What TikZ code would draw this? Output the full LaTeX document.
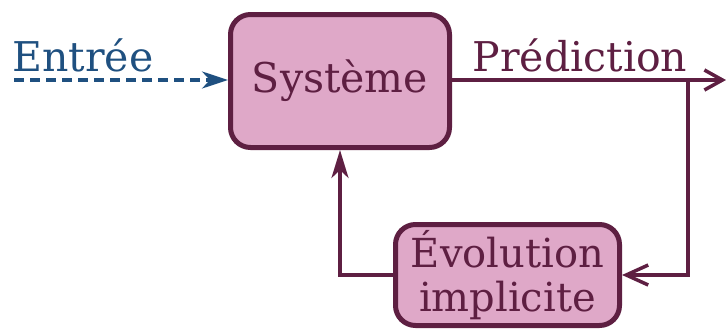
\documentclass[tikz,border=0pt]{standalone}
\usepackage{fontspec}
\setmainfont{DejaVu Serif}
\usetikzlibrary{arrows.meta,calc}
\definecolor{boxfill}{HTML}{DFA8C8}
\definecolor{boxdraw}{HTML}{5E1F42}
\definecolor{inblue}{HTML}{1F5080}
\tikzset{
  blockbox/.style={draw=boxdraw, fill=boxfill, line width=5pt, rounded corners=20pt, text=boxdraw, align=center, inner sep=0pt},
  conn/.style={draw=boxdraw, line width=3.5pt},
  labeltext/.style={inner sep=0pt, font=\fontsize{41}{44}\selectfont},
}
\begin{document}
\begin{tikzpicture}[x=1pt,y=1pt]
\useasboundingbox (0,0) rectangle (726,-332);
\node[blockbox, minimum width=219pt, minimum height=133pt, font=\fontsize{41}{44}\selectfont] (sys) at (340,-81) {Système};
\node[blockbox, minimum width=224pt, minimum height=101pt, font=\fontsize{40}{44}\selectfont] (evo) at (507.5,-275) {Évolution\\implicite};
\node[labeltext, text=inblue, anchor=base] (ent) at (83,-71) {Entrée};
\node[labeltext, text=boxdraw, anchor=base] (pred) at (580,-71) {Prédiction};
\coordinate (inStart) at (14,-80);
\coordinate (outEnd) at (726,-80);
\coordinate (fb) at (688,-80);
\draw[draw=inblue, line width=3.2pt, dash pattern=on 10pt off 6pt, -{Stealth[length=26pt,width=17pt,inset=8pt]}] (inStart) -- (inStart -| sys.west);
\draw[conn, -{Straight Barb[length=18pt,width=20pt]}] (sys.east |- outEnd) -- (outEnd);
\draw[conn, -{Straight Barb[length=22pt,width=20pt]}] (fb) |- (evo.east);
\draw[conn, -{Stealth[length=28pt,width=17pt,inset=8pt]}] (evo.west) -| (sys.south);
\end{tikzpicture}
\end{document}
